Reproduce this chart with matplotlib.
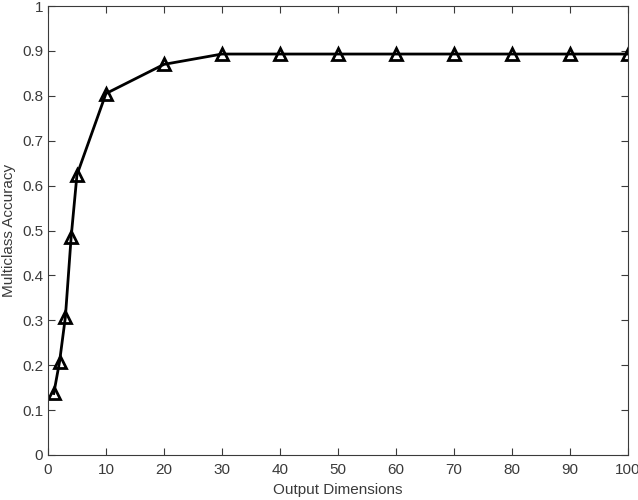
import matplotlib
matplotlib.use('Agg')
import matplotlib.pyplot as plt

dims = [1, 2, 3, 4, 5, 10, 20, 30, 40, 50, 60, 70, 80, 90, 100]
acc = [0.137, 0.208, 0.307, 0.486, 0.624, 0.805, 0.870, 0.893, 0.893,
       0.893, 0.893, 0.893, 0.893, 0.893, 0.893]

x_ticks = list(range(0, 101, 10))
y_ticks = [0, 0.1, 0.2, 0.3, 0.4, 0.5, 0.6, 0.7, 0.8, 0.9, 1]
y_labels = ['0', '0.1', '0.2', '0.3', '0.4', '0.5', '0.6', '0.7', '0.8', '0.9', '1']

plt.rcParams['font.family'] = ['Liberation Sans', 'DejaVu Sans']
gray = '#3a3a3a'

fig = plt.figure(figsize=(6.38, 5), dpi=100)
ax = fig.add_axes([0.0752, 0.09, 0.9088, 0.898])

ax.plot(dims, acc, color='black', lw=2, marker='^', markersize=9,
        markerfacecolor='none', markeredgewidth=2, markeredgecolor='black')

ax.set_xlim(0, 100)
ax.set_ylim(0, 1)
ax.set_xticks(x_ticks)
ax.set_yticks(y_ticks)
ax.set_yticklabels(y_labels)
ax.tick_params(direction='in', length=5, width=0.8, colors=gray, labelsize=11,
               top=True, right=True, labeltop=False, labelright=False)
ax.tick_params(axis='x', pad=6)
for s in ax.spines.values():
    s.set_color(gray)
    s.set_linewidth(0.8)

ax.set_xlabel('Output Dimensions', fontsize=11, color=gray, labelpad=4)
ax.set_ylabel('Multiclass Accuracy', fontsize=11, color=gray, labelpad=4)

fig.savefig('out.png', dpi=100)
